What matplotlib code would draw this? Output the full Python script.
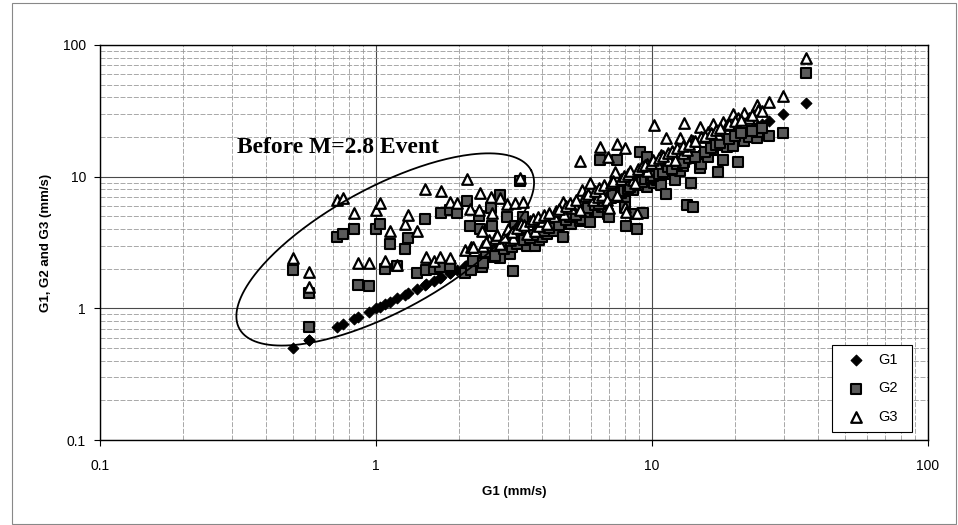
import numpy as np
import matplotlib
matplotlib.use("Agg")
import matplotlib.pyplot as plt

# ---- data (G1, G2, G3 in mm/s, one entry per event) ----
g1 = [0.50, 0.57, 0.57, 0.72, 0.76, 0.83, 0.86, 0.94, 1.00, 1.03, 1.08, 1.12,
      1.19, 1.27, 1.31, 1.41, 1.50, 1.52, 1.62, 1.71, 1.72, 1.85, 1.85, 1.96,
      2.10, 2.14, 2.19, 2.20, 2.36, 2.38, 2.42, 2.57, 2.61, 2.63, 2.81, 2.81,
      2.98, 3.06, 3.13, 3.19, 3.33, 3.41, 3.53, 3.77, 3.90, 4.00, 4.17, 4.40,
      4.50, 4.76, 4.80, 5.10, 5.20, 5.48, 5.50, 5.60, 5.96, 6.10, 6.36, 6.48,
      6.60, 6.87, 6.92, 7.00, 7.35, 7.47, 7.47, 8.00, 8.00, 8.07, 8.50, 8.70,
      8.80, 9.05, 9.30, 9.60, 9.60, 10.2, 10.4, 10.8, 11.2, 11.5, 12.1, 12.6,
      12.9, 13.1, 13.4, 13.9, 14.1, 14.9, 15.1, 16.0, 16.7, 17.3, 18.1, 18.7,
      19.6, 20.5, 21.5, 22.5, 24.0, 24.2, 26.5, 29.8, 36.0,
      2.25, 2.45, 2.50, 2.70, 2.75, 2.90, 3.00, 3.10, 3.25, 3.35, 3.45, 3.60,
      3.70, 3.85, 4.05, 4.25, 4.60, 4.90, 5.05, 5.30, 5.70, 5.85, 6.20, 6.40,
      6.70, 7.10, 7.25, 7.70, 7.90, 8.20, 8.35, 8.90, 9.20, 9.45, 9.90, 10.1,
      10.6, 11.0, 11.4, 11.8, 12.3, 13.0, 13.6, 14.3, 15.5, 16.3, 17.0, 17.7,
      19.0, 20.0, 21.0, 23.0, 25.0]
g2 = [1.95, 1.30, 0.72, 3.50, 3.70, 4.00, 1.50, 1.48, 4.00, 4.40, 2.00, 3.07,
      2.10, 2.80, 3.40, 1.85, 4.75, 1.95, 2.00, 2.07, 5.30, 5.60, 2.10, 5.30,
      1.85, 6.50, 4.20, 1.95, 5.00, 4.00, 2.07, 2.45, 5.80, 4.20, 7.20, 2.40,
      4.90, 2.60, 1.92, 4.20, 9.20, 4.90, 3.00, 3.00, 3.30, 3.50, 3.70, 3.90,
      4.60, 3.50, 4.40, 4.40, 5.00, 5.40, 4.60, 4.80, 4.50, 5.60, 5.40, 13.5,
      5.90, 6.30, 5.20, 4.90, 7.00, 7.80, 13.4, 7.00, 5.90, 4.20, 7.90, 5.20,
      4.00, 15.3, 5.30, 8.30, 14.0, 9.00, 9.40, 8.60, 7.40, 10.5, 9.40, 11.0,
      12.0, 13.0, 6.10, 8.90, 5.90, 11.6, 12.5, 14.0, 15.9, 10.9, 13.3, 16.7,
      17.0, 12.9, 18.5, 20.0, 19.5, 22.0, 20.3, 21.4, 61.0,
      2.30, 2.20, 2.70, 2.50, 3.00, 2.80, 3.20, 2.90, 3.10, 3.40, 3.30, 3.40,
      3.60, 3.80, 3.90, 4.10, 4.30, 4.70, 4.90, 5.10, 5.40, 5.80, 6.10, 6.20,
      6.50, 6.90, 7.30, 7.50, 7.80, 8.00, 8.40, 8.70, 9.10, 9.60, 9.70, 10.2,
      10.4, 10.9, 11.8, 11.4, 12.5, 12.8, 13.9, 14.2, 15.3, 16.4, 17.3, 17.9,
      19.2, 20.3, 21.5, 22.4, 23.5]
g3 = [2.40, 1.45, 1.90, 6.60, 6.90, 5.30, 2.20, 2.20, 5.60, 6.30, 2.30, 3.90,
      2.15, 4.40, 5.10, 3.90, 8.00, 2.45, 2.30, 2.45, 7.80, 6.40, 2.40, 6.30,
      2.77, 9.60, 5.70, 2.90, 5.60, 7.50, 3.90, 3.30, 7.00, 5.30, 6.90, 3.10,
      6.20, 3.30, 3.40, 6.30, 9.80, 6.40, 3.70, 3.90, 4.20, 4.60, 4.40, 5.00,
      5.50, 6.40, 5.20, 5.80, 6.20, 13.1, 5.60, 7.90, 8.90, 6.60, 7.00, 16.7,
      7.20, 6.60, 14.1, 5.80, 10.8, 7.20, 17.7, 16.5, 5.90, 5.40, 9.50, 9.00,
      5.30, 11.2, 11.5, 11.0, 12.5, 24.5, 12.7, 14.5, 19.6, 13.5, 13.3, 19.8,
      15.1, 25.5, 16.0, 19.0, 18.5, 24.0, 20.0, 22.0, 25.0, 21.0, 26.0, 24.5,
      30.0, 28.0, 30.5, 28.0, 35.0, 32.0, 36.6, 41.0, 79.0,
      2.90, 3.00, 3.20, 3.40, 3.60, 3.50, 4.00, 3.80, 4.10, 4.40, 4.30, 4.60,
      4.80, 4.90, 5.10, 5.30, 5.70, 6.00, 6.30, 6.70, 7.10, 7.40, 7.80, 8.20,
      8.60, 9.00, 9.30, 9.60, 10.2, 10.5, 11.0, 11.4, 12.0, 12.3, 12.8, 13.4,
      13.9, 14.4, 15.0, 15.6, 16.4, 17.2, 17.8, 18.6, 20.5, 21.6, 22.5, 23.5,
      25.0, 26.5, 27.0, 29.5, 31.5]
ticks = [0.1, 1, 10, 100]
tick_labels = ["0.1", "1", "10", "100"]
series_names = ["G1", "G2", "G3"]
note_text = "Before M=2.8 Event"

plt.rcParams['font.family'] = ['Liberation Sans', 'DejaVu Sans']

fig = plt.figure(figsize=(9.58, 5.25), dpi=100)
ax = fig.add_axes([100/958, 85/525, 828/958, 395/525])
ax.set_xscale('log')
ax.set_yscale('log')
ax.set_xlim(0.1, 100)
ax.set_ylim(0.1, 100)

# grid
ax.grid(which='major', color='#4a4a4a', lw=0.8, ls='-')
ax.grid(which='minor', color='#9a9a9a', lw=0.6, ls=(0, (6, 2)))
ax.set_axisbelow(True)

ax.scatter(g1, g1, marker='D', s=30, c='black', edgecolors='black', lw=0.8,
           zorder=3, label=series_names[0])
ax.scatter(g1, g2, marker='s', s=52, c='#5a5a5a', edgecolors='black', lw=1.5,
           zorder=4, label=series_names[1])
ax.scatter(g1, g3, marker='^', s=58, c='white', edgecolors='black', lw=1.6,
           zorder=5, label=series_names[2])

# annotation ellipse (drawn in log space)
cx, cy = np.log10(1.08), np.log10(2.8)
t = np.linspace(0, 2*np.pi, 300)
a_px, b_px, ang = 166.0, 62.0, np.deg2rad(28.5)
px = a_px*np.cos(t)*np.cos(ang) - b_px*np.sin(t)*np.sin(ang)
py = a_px*np.cos(t)*np.sin(ang) + b_px*np.sin(t)*np.cos(ang)
ex = 10**(cx + px/276.0)
ey = 10**(cy + py/131.7)
ax.plot(ex, ey, color='black', lw=1.3, zorder=6)
ax.text(0.313, 15.1, note_text, fontsize=17, fontweight='bold',
        family=['Liberation Serif', 'DejaVu Serif'], zorder=7,
        va='baseline', ha='left')

ax.set_xticks(ticks)
ax.set_xticklabels(tick_labels)
ax.set_yticks(ticks)
ax.set_yticklabels(tick_labels)
ax.tick_params(which='major', labelsize=10, length=4, direction='out')
ax.tick_params(axis='x', pad=10)
ax.tick_params(axis='y', pad=6)
ax.tick_params(which='minor', length=0)
for s in ax.spines.values():
    s.set_color('black')
    s.set_linewidth(1.0)

ax.set_xlabel("G1 (mm/s)", fontsize=9.5, fontweight='bold', labelpad=9)
ax.set_ylabel("G1, G2 and G3 (mm/s)", fontsize=9.5, fontweight='bold', labelpad=8)

leg = ax.legend(loc='lower left', bbox_to_anchor=(0.884, 0.02, 0.097, 0.22),
                mode='expand', frameon=True, borderaxespad=0,
                fancybox=False, edgecolor='black', framealpha=1, fontsize=10.5,
                labelspacing=1.0, handletextpad=0.4, borderpad=0.55,
                scatterpoints=1, handlelength=2.2)
leg.get_frame().set_linewidth(0.8)

# outer chart border
fig.add_artist(plt.Rectangle((12/958, 1/525), 944/958, 521/525, fill=False,
                             transform=fig.transFigure, ec='#888888', lw=0.8))

fig.savefig("out.png", dpi=100)
